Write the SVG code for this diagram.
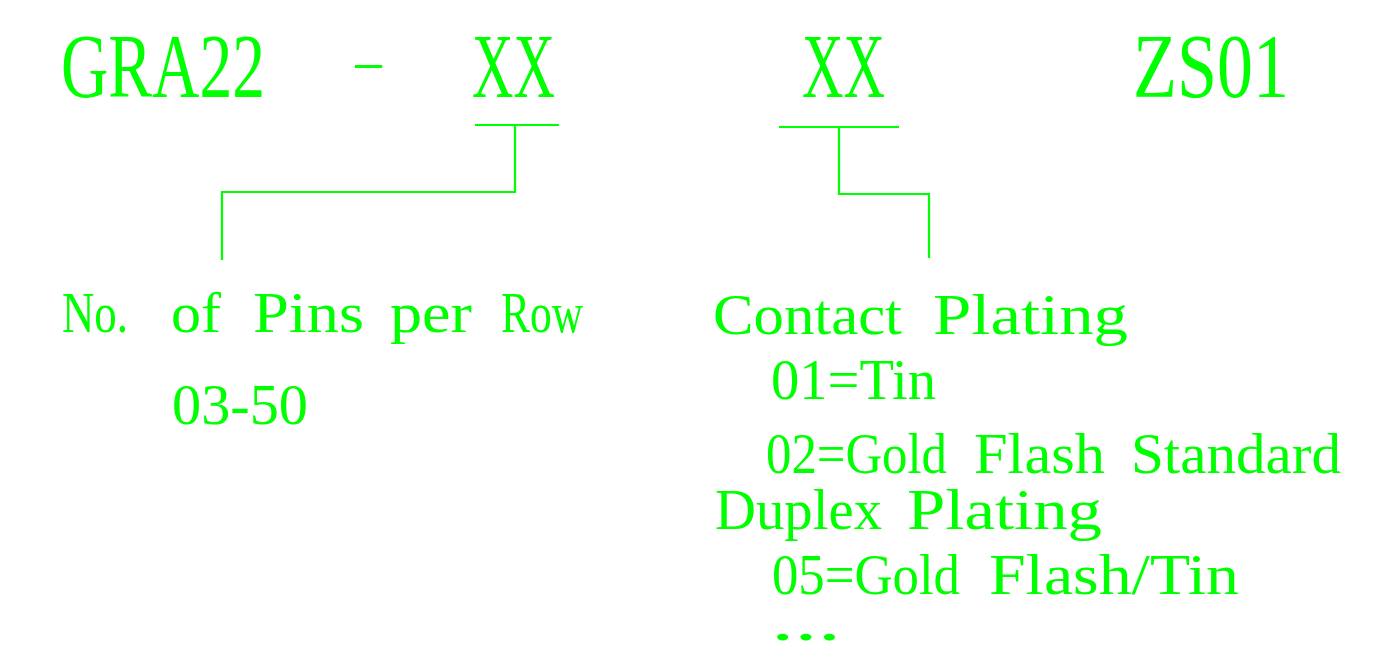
<svg xmlns="http://www.w3.org/2000/svg" width="1376" height="667" viewBox="0 0 1376 667">
<style>
text{font-family:"Liberation Serif","Times New Roman",serif;fill:#00ff00}
.big{font-size:92px}
.dash{font-size:40px}
.sm{font-size:56px}
.ln{stroke:#00ff00;stroke-width:2.2;fill:none}
</style>
<rect width="1376" height="667" fill="#ffffff"/>
<g id="code">
<text class="big" y="97"><tspan x="61" textLength="204" lengthAdjust="spacingAndGlyphs">GRA22</tspan></text>
<text class="dash" x="351" y="76" textLength="35" lengthAdjust="spacingAndGlyphs">-</text>
<text class="big" y="97"><tspan x="472" textLength="83" lengthAdjust="spacingAndGlyphs">XX</tspan><tspan x="802" textLength="83" lengthAdjust="spacingAndGlyphs">XX</tspan><tspan x="1133" textLength="156" lengthAdjust="spacingAndGlyphs">ZS01</tspan></text>
</g>
<g id="connectors">
<polyline class="ln" points="475,125 559,125"/>
<polyline class="ln" points="515,125 515,192 222,192 222,260"/>
<polyline class="ln" points="779,127 899,127"/>
<polyline class="ln" points="839,127 839,194 929,194 929,258"/>
</g>
<g id="pins">
<text class="sm" y="332"><tspan x="62" textLength="66" lengthAdjust="spacingAndGlyphs">No.</tspan><tspan x="171" textLength="50" lengthAdjust="spacingAndGlyphs">of</tspan><tspan x="253" textLength="111" lengthAdjust="spacingAndGlyphs">Pins</tspan><tspan x="390" textLength="82" lengthAdjust="spacingAndGlyphs">per</tspan><tspan x="501" textLength="82" lengthAdjust="spacingAndGlyphs">Row</tspan></text>
<text class="sm" y="424"><tspan x="172" textLength="136" lengthAdjust="spacingAndGlyphs">03-50</tspan></text>
</g>
<g id="plating">
<text class="sm" y="334"><tspan x="713" textLength="189" lengthAdjust="spacingAndGlyphs">Contact</tspan><tspan x="933" textLength="195" lengthAdjust="spacingAndGlyphs">Plating</tspan></text>
<text class="sm" y="399"><tspan x="771" textLength="165" lengthAdjust="spacingAndGlyphs">01=Tin</tspan></text>
<text class="sm" y="473"><tspan x="766" textLength="181" lengthAdjust="spacingAndGlyphs">02=Gold</tspan><tspan x="974" textLength="131" lengthAdjust="spacingAndGlyphs">Flash</tspan><tspan x="1131" textLength="210" lengthAdjust="spacingAndGlyphs">Standard</tspan></text>
<text class="sm" y="529"><tspan x="715" textLength="167" lengthAdjust="spacingAndGlyphs">Duplex</tspan><tspan x="907" textLength="195" lengthAdjust="spacingAndGlyphs">Plating</tspan></text>
<text class="sm" y="594"><tspan x="772" textLength="188" lengthAdjust="spacingAndGlyphs">05=Gold</tspan><tspan x="989" textLength="250" lengthAdjust="spacingAndGlyphs">Flash/Tin</tspan></text>
<text class="sm" y="640"><tspan x="771" textLength="70" lengthAdjust="spacingAndGlyphs">...</tspan></text>
</g>
</svg>
